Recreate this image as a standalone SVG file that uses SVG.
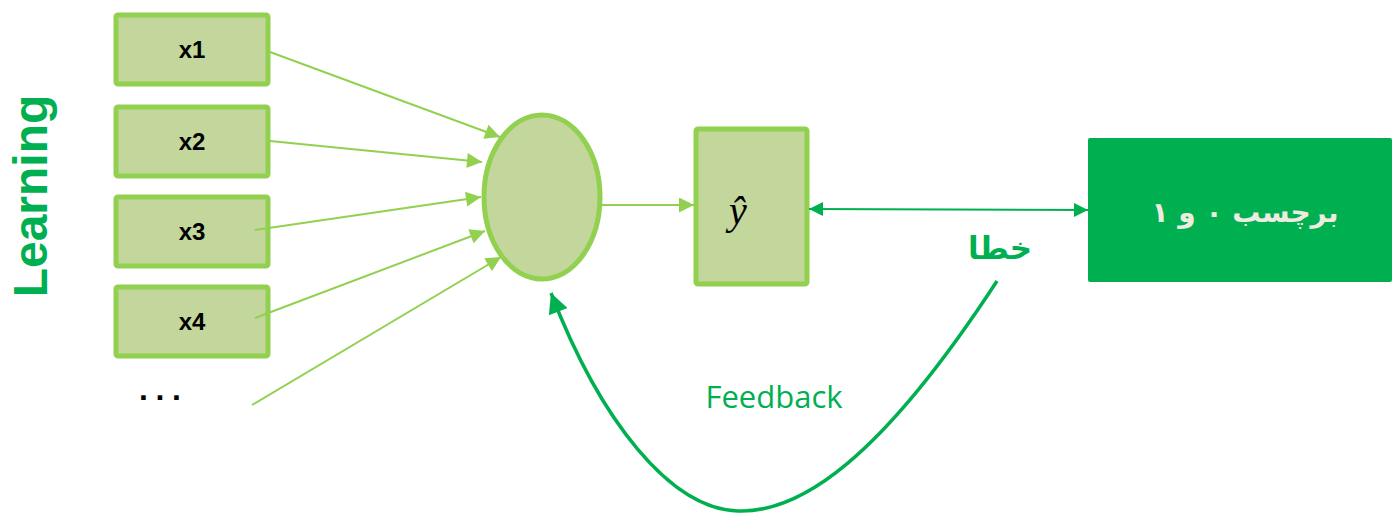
<svg xmlns="http://www.w3.org/2000/svg" width="1392" height="513" viewBox="0 0 1392 513">
<defs>
<style>
.box{fill:#c3d69b;stroke:#92d050;stroke-width:5}
.lbl{font-family:"Liberation Sans",Arial,sans-serif;font-weight:bold;font-size:24px;fill:#000;text-anchor:middle}
.in{stroke:#92d050;stroke-width:2;fill:none;marker-end:url(#ah)}
.dk{stroke:#00b050;stroke-width:2;fill:none}
.fb{stroke:#00b050;stroke-width:3.5;fill:none}
</style>
<marker id="ah" viewBox="0 0 10 10" refX="10" refY="5" markerWidth="17" markerHeight="15" markerUnits="userSpaceOnUse" orient="auto"><path d="M0,0 L10,5 L0,10 z" fill="#92d050"/></marker>
<marker id="dh" viewBox="0 0 10 10" refX="10" refY="5" markerWidth="16" markerHeight="14" markerUnits="userSpaceOnUse" orient="auto"><path d="M0,0 L10,5 L0,10 z" fill="#00b050"/></marker>
<marker id="ds" viewBox="0 0 10 10" refX="0" refY="5" markerWidth="16" markerHeight="14" markerUnits="userSpaceOnUse" orient="auto"><path d="M10,0 L0,5 L10,10 z" fill="#00b050"/></marker>
<marker id="fh" viewBox="0 0 10 10" refX="10" refY="5" markerWidth="22" markerHeight="20" markerUnits="userSpaceOnUse" orient="auto"><path d="M0,0 L10,5 L0,10 z" fill="#00b050"/></marker>
</defs>
<rect width="1392" height="513" fill="#fff"/>
<text transform="translate(47,196) rotate(-90)" text-anchor="middle" font-family="Liberation Sans,Arial,sans-serif" font-weight="bold" font-size="48" fill="#00b050">Learning</text>
<g id="x1"><rect class="box" x="116" y="15" width="152" height="69" rx="2"/><text class="lbl" x="192" y="58">x1</text></g>
<g id="x2"><rect class="box" x="116" y="107" width="152" height="69" rx="2"/><text class="lbl" x="192" y="150">x2</text></g>
<g id="x3"><rect class="box" x="116" y="197" width="152" height="69" rx="2"/><text class="lbl" x="192" y="240">x3</text></g>
<g id="x4"><rect class="box" x="116" y="287" width="152" height="69" rx="2"/><text class="lbl" x="192" y="330">x4</text></g>
<g id="dots"><text x="139" y="400" font-family="Liberation Sans,Arial,sans-serif" font-weight="bold" font-size="32" letter-spacing="7.6" fill="#000">...</text></g>
<g id="neuron"><ellipse cx="542" cy="197" rx="58" ry="82" fill="#c3d69b" stroke="#92d050" stroke-width="5"/></g>
<g id="yhat"><rect class="box" x="696" y="129" width="111" height="155" rx="2"/><text x="738" y="224" text-anchor="middle" font-family="Liberation Serif,serif" font-style="italic" font-size="40" fill="#000">ŷ</text></g>
<g id="label"><rect x="1088" y="138" width="304" height="144" rx="2" fill="#00b050"/><text x="1245" y="222" text-anchor="middle" direction="rtl" font-family="DejaVu Sans,sans-serif" font-weight="bold" font-size="28" fill="#eeece1">برچسب ۰ و ۱</text></g>
<g id="error"><text x="1000" y="259" text-anchor="middle" direction="rtl" font-family="DejaVu Sans,sans-serif" font-weight="bold" font-size="31" fill="#00b050">خطا</text></g>
<g id="feedback-label"><text x="774" y="408" text-anchor="middle" font-family="Open Sans,sans-serif" font-size="31" fill="#00b050">Feedback</text></g>
<g id="connectors">
<line class="in" x1="270" y1="52" x2="500" y2="137"/>
<line class="in" x1="270" y1="141" x2="482" y2="162"/>
<line class="in" x1="255" y1="230" x2="481" y2="197"/>
<line class="in" x1="255" y1="318" x2="485" y2="231"/>
<line class="in" x1="252" y1="405" x2="501" y2="257"/>
<line class="in" x1="600" y1="205" x2="694" y2="205"/>
<line class="dk" x1="809" y1="209" x2="1088" y2="210" marker-start="url(#ds)" marker-end="url(#dh)"/>
<path class="fb" d="M997,281 C880,460 800,513 738,511 C670,509 600,420 551,293" marker-end="url(#fh)"/>
</g>
</svg>
